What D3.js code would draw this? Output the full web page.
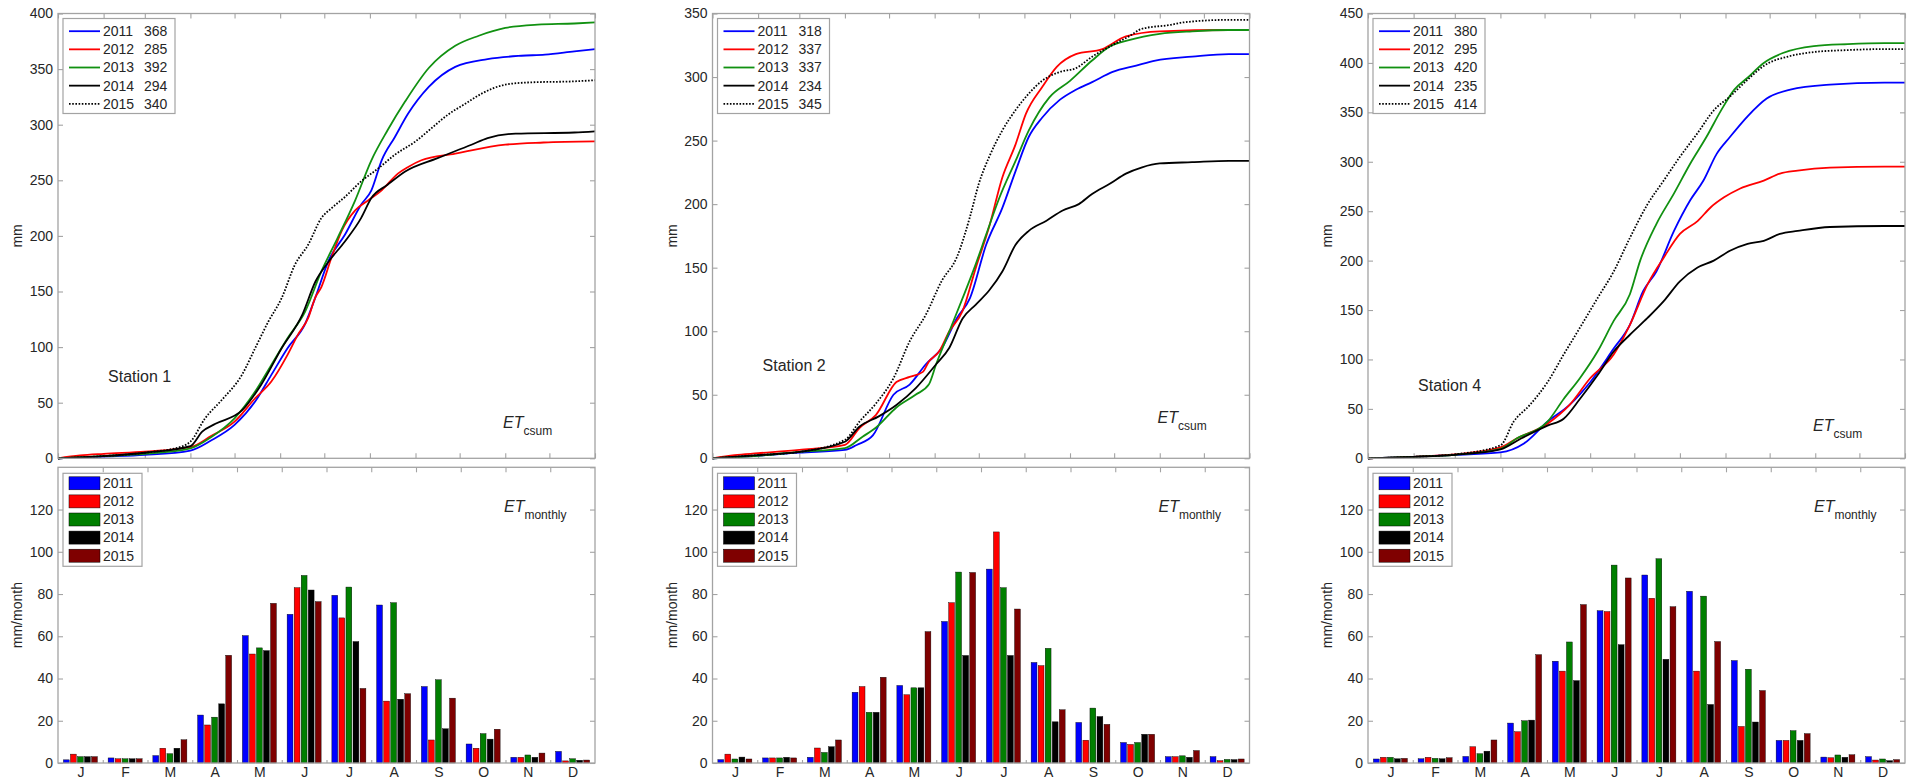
<!DOCTYPE html>
<html>
<head>
<meta charset="utf-8">
<script src="https://cdn.jsdelivr.net/npm/d3@7"></script>
<style>
  body { margin: 0; background: #fff; }
  text { font-family: Arial, "Liberation Sans", sans-serif; }
</style>
</head>
<body>
<div class="chart"></div>
<script>
// ---- data ----
const years = ["2011", "2012", "2013", "2014", "2015"];
const stations = ["Station 1", "Station 2", "Station 4"];
const monthLabels = ["J", "F", "M", "A", "M", "J", "J", "A", "S", "O", "N", "D"];
const monthStarts = [0, 31, 59, 90, 120, 151, 181, 212, 243, 273, 304, 334, 365];
const yMaxCsum = [400, 350, 450];
const csumTicks = [
  [0, 50, 100, 150, 200, 250, 300, 350, 400],
  [0, 50, 100, 150, 200, 250, 300, 350],
  [0, 50, 100, 150, 200, 250, 300, 350, 400, 450]
];
const monthlyTicks = [0, 20, 40, 60, 80, 100, 120];

// annual totals shown in the legends
const totals1 = [368, 285, 392, 294, 340];
const totals2 = [318, 337, 337, 234, 345];
const totals4 = [380, 295, 420, 235, 414];

// cumulative ET, [day of year, mm]
const csum1_2011 = [[0,0],[31,1.5],[59,3],[90,7],[104,16],[120,30],[134,51],[145,75],[156,99],[168,121],[175,145],[184,178],[195,201],[206,228],[213,241],[220,268],[229,289],[238,310],[252,334],[270,352],[292,359],[315,362],[331,363],[351,366],[365,368]];
const csum1_2012 = [[0,0],[15,2.5],[31,4],[59,6],[90,10],[104,20],[120,33],[134,54],[145,69],[156,93],[163,111],[170,126],[175,145],[179,154],[186,181],[193,205],[202,223],[211,232],[220,241],[231,256],[238,262],[247,268],[270,274],[281,277],[304,282],[330,284],[365,285]];
const csum1_2013 = [[0,0],[31,2],[59,4],[90,9],[104,19],[120,36],[134,60],[145,84],[156,108],[168,132],[179,168],[190,198],[202,232],[213,268],[224,295],[236,321],[252,351],[270,371],[286,380],[304,387],[326,390],[351,391],[365,392]];
const csum1_2014 = [[0,0],[31,2],[59,5],[90,11],[98,24],[107,31],[125,43],[138,66],[152,99],[166,129],[175,159],[184,177],[195,195],[206,216],[213,234],[224,246],[236,258],[258,270],[281,282],[292,288],[311,292],[351,293],[365,294]];
const csum1_2015 = [[0,0],[31,2],[59,5],[85,11],[90,15],[100,36],[111,52],[125,75],[134,99],[143,123],[152,144],[161,174],[170,192],[179,216],[186,225],[195,235],[206,249],[218,261],[229,273],[243,285],[254,297],[265,309],[277,319],[288,328],[304,336],[320,338],[351,339],[365,340]];

const csum2_2011 = [[0,0],[31,2],[59,4.5],[90,6.6],[98,10.5],[109,18],[123,50],[134,58],[145,74],[156,87],[166,110],[175,126],[186,168],[197,197],[206,226],[215,253],[224,268],[236,282],[247,290],[258,296],[272,304],[288,309],[301,313],[326,316],[351,318],[365,318]];
const csum2_2012 = [[0,0],[15,2.5],[31,4],[59,6.6],[90,10.5],[100,24],[111,34],[125,60],[134,64],[143,68],[147,76],[154,84],[161,100],[170,116],[179,150],[188,182],[197,221],[206,247],[213,271],[224,292],[234,308],[247,318],[265,322],[281,332],[304,336],[351,337],[365,337]];
const csum2_2013 = [[0,0],[31,2],[59,5],[90,8],[102,17],[111,24],[125,40],[138,50],[147,58],[152,74],[161,100],[170,126],[179,153],[186,176],[195,205],[206,234],[215,258],[229,284],[243,297],[258,313],[270,324],[283,329],[304,334],[326,336],[351,337],[365,337]];
const csum2_2014 = [[0,0],[31,2.5],[59,5],[90,13],[100,25],[113,33],[125,42],[138,55],[152,74],[161,87],[170,110],[179,121],[188,132],[197,147],[206,168],[215,179],[227,187],[238,195],[249,200],[258,208],[270,216],[281,224],[292,229],[304,232],[326,233],[351,234],[365,234]];
const csum2_2015 = [[0,0],[31,2.5],[59,5],[90,14.5],[100,29],[111,43],[123,63],[134,92],[145,113],[156,140],[166,158],[175,190],[181,216],[188,237],[197,258],[206,274],[215,287],[224,297],[236,304],[247,307],[258,316],[270,324],[283,332],[292,338],[311,341],[320,343],[351,345],[365,345]];

const csum4_2011 = [[0,0],[31,1.5],[59,3.5],[90,6],[106,15],[122,37],[137,54],[151,77],[167,111],[178,135],[187,169],[196,189],[208,230],[219,261],[228,281],[237,308],[246,325],[258,346],[271,364],[287,373],[314,378],[351,380],[365,380]];
const csum4_2012 = [[0,0],[31,1.5],[59,4],[90,11],[101,20],[122,35],[137,54],[151,81],[167,105],[178,135],[190,176],[201,203],[212,227],[224,240],[233,254],[242,264],[253,273],[269,281],[280,288],[292,291],[314,294],[351,295],[365,295]];
const csum4_2013 = [[0,0],[31,1.5],[59,3.5],[90,9.5],[101,20],[122,37],[133,60],[144,81],[156,108],[167,139],[178,166],[185,200],[196,237],[208,268],[219,298],[230,325],[240,352],[249,373],[258,385],[269,400],[282,410],[303,417],[326,419],[351,420],[365,420]];
const csum4_2014 = [[0,0],[31,1.5],[59,3.5],[90,9],[104,20],[122,33],[133,40],[144,60],[156,84],[167,108],[178,125],[190,142],[201,159],[212,179],[224,193],[235,200],[246,210],[258,217],[269,220],[280,227],[292,230],[314,234],[351,235],[365,235]];
const csum4_2015 = [[0,0],[31,1.5],[59,4],[90,13],[99,37],[110,54],[122,77],[133,105],[144,132],[156,162],[167,189],[178,223],[190,257],[201,281],[212,305],[224,329],[235,352],[246,366],[258,383],[269,397],[287,407],[303,411],[326,413],[351,414],[365,414]];

// monthly ET, mm/month (J..D)
const month1_2011 = [1.5, 2.4, 3.5, 22.7, 60.3, 70.4, 79.4, 74.8, 36.2, 9, 2.7, 5.5];
const month1_2012 = [4.2, 2, 7, 18, 51.6, 83, 68.7, 29.3, 10.9, 7, 2.7, 1];
const month1_2013 = [3, 2, 4.4, 21.7, 54.5, 88.8, 83.3, 75.9, 39.4, 13.9, 3.8, 2];
const month1_2014 = [3, 2, 7, 28, 53.2, 81.9, 57.5, 30.2, 16.2, 11.3, 2.7, 1.3];
const month1_2015 = [3, 2, 11, 51, 75.6, 76.4, 35.3, 32.8, 30.7, 16, 4.7, 1.4];

const month2_2011 = [1.6, 2.4, 2.7, 33.5, 36.7, 67, 91.8, 47.6, 19.2, 9.7, 3, 3];
const month2_2012 = [4.2, 2.4, 7.1, 36.2, 32.3, 75.9, 109.4, 46.1, 10.8, 8.8, 3, 1.1];
const month2_2013 = [1.9, 2.4, 5, 24, 35.6, 90.4, 83, 54.3, 26, 9.7, 3.4, 1.7];
const month2_2014 = [2.8, 2.7, 7.7, 24, 35.6, 50.9, 50.9, 19.5, 22, 13.6, 2.7, 1.6];
const month2_2015 = [1.9, 2.4, 10.9, 40.6, 62.2, 90.2, 72.9, 25.2, 18.3, 13.6, 5.9, 1.9];

const month4_2011 = [1.9, 2, 3.1, 18.9, 48.2, 72.1, 89, 81.3, 48.5, 10.7, 2.8, 3];
const month4_2012 = [2.7, 2.7, 7.7, 14.8, 43.5, 71.7, 78, 43.5, 17.3, 10.7, 2.5, 1.4];
const month4_2013 = [2.7, 2.2, 4.4, 20, 57.3, 93.7, 96.7, 79, 44.4, 15.3, 3.8, 1.9];
const month4_2014 = [2, 2, 5.6, 20.3, 39, 56, 49.1, 27.7, 19.4, 10.7, 2.7, 1.1];
const month4_2015 = [2.2, 2.5, 10.9, 51.3, 75, 87.6, 74, 57.5, 34.3, 13.9, 3.9, 1.6];

const csumData = [
  [csum1_2011, csum1_2012, csum1_2013, csum1_2014, csum1_2015],
  [csum2_2011, csum2_2012, csum2_2013, csum2_2014, csum2_2015],
  [csum4_2011, csum4_2012, csum4_2013, csum4_2014, csum4_2015]
];
const monthlyData = [
  [month1_2011, month1_2012, month1_2013, month1_2014, month1_2015],
  [month2_2011, month2_2012, month2_2013, month2_2014, month2_2015],
  [month4_2011, month4_2012, month4_2013, month4_2014, month4_2015]
];
const totals = [totals1, totals2, totals4];

// ---- layout ----
const lineColors = ["#0000ff", "#ff0000", "#119111", "#000000", "#000000"];
const barColors = ["#0000ff", "#ff0000", "#007f00", "#000000", "#7f0000"];
const frameColor = "#a3a3a3";
const textColor = "#262626";

const panelLeft = [58, 712.5, 1368];
const pw = 537;
const topY = 13.5, topH = 444.8;
const botY = 467.3, botH = 295.7;

const svg = d3
  .select(".chart")
  .append("svg")
  .attr("width", 1915)
  .attr("height", 783)
  .style("background", "#fff");

function styleAxis(g) {
  g.select(".domain").remove();
  g.selectAll(".tick line").attr("stroke", frameColor).attr("stroke-width", 1.1);
  g.attr("font-size", 14).attr("font-family", "Arial, 'Liberation Sans', sans-serif");
  g.selectAll(".tick text").attr("fill", textColor);
}

stations.forEach((name, i) => {
  const g = svg.append("g").attr("transform", `translate(${panelLeft[i]},0)`);

  // ================= cumulative panel =================
  const gt = g.append("g").attr("transform", `translate(0,${topY})`);
  const x = d3.scaleLinear().domain([0, 365]).range([0, pw]);
  const y = d3.scaleLinear().domain([0, yMaxCsum[i]]).range([topH, 0]);

  gt.append("g")
    .call(d3.axisLeft(y).tickValues(csumTicks[i]).tickSize(-5).tickPadding(5))
    .call(styleAxis);
  gt.append("g")
    .attr("transform", `translate(${pw},0)`)
    .call(d3.axisRight(y).tickValues(csumTicks[i]).tickSize(-5).tickFormat(""))
    .call(styleAxis);
  gt.append("g")
    .attr("transform", `translate(0,${topH})`)
    .call(d3.axisBottom(x).tickValues(monthStarts).tickSize(-5).tickFormat(""))
    .call(styleAxis);
  gt.append("g")
    .call(d3.axisTop(x).tickValues(monthStarts).tickSize(-5).tickFormat(""))
    .call(styleAxis);

  const line = d3
    .line()
    .x((d) => x(d[0]))
    .y((d) => y(d[1]))
    .curve(d3.curveMonotoneX);

  csumData[i].forEach((series, k) => {
    gt.append("path")
      .datum(series)
      .attr("d", line)
      .attr("fill", "none")
      .attr("stroke", lineColors[k])
      .attr("stroke-width", 1.8)
      .attr("stroke-dasharray", k === 4 ? "1.6,1.6" : null);
  });

  gt.append("rect")
    .attr("width", pw)
    .attr("height", topH)
    .attr("fill", "none")
    .attr("stroke", frameColor)
    .attr("stroke-width", 1.3);

  // legend
  const lg = gt.append("g").attr("transform", "translate(5,5)");
  lg.append("rect")
    .attr("width", 112)
    .attr("height", 95)
    .attr("fill", "#fff")
    .attr("stroke", frameColor)
    .attr("stroke-width", 1.2);
  years.forEach((yr, k) => {
    const ry = 12.7 + k * 18.15;
    lg.append("line")
      .attr("x1", 6).attr("x2", 37)
      .attr("y1", ry).attr("y2", ry)
      .attr("stroke", lineColors[k])
      .attr("stroke-width", 1.8)
      .attr("stroke-dasharray", k === 4 ? "1.6,1.6" : null);
    lg.append("text").attr("x", 40).attr("y", ry).attr("dy", "0.35em")
      .attr("font-size", 14).attr("fill", textColor).text(yr);
    lg.append("text").attr("x", 81).attr("y", ry).attr("dy", "0.35em")
      .attr("font-size", 14).attr("fill", textColor).text(totals[i][k]);
  });

  gt.append("text")
    .attr("x", x(34))
    .attr("y", y(70) + 2)
    .attr("font-size", 16)
    .attr("fill", textColor)
    .text(name);

  const et1 = gt.append("text")
    .attr("x", x(302.5))
    .attr("y", y(27.5))
    .attr("font-size", 16)
    .attr("fill", textColor);
  et1.append("tspan").attr("font-style", "italic").text("ET");
  et1.append("tspan").attr("font-size", 12).attr("dy", 7).text("csum");

  gt.append("text")
    .attr("transform", `translate(-36,${topH / 2}) rotate(-90)`)
    .attr("text-anchor", "middle")
    .attr("font-size", 14)
    .attr("fill", textColor)
    .text("mm");

  // ================= monthly panel =================
  const gb = g.append("g").attr("transform", `translate(0,${botY})`);
  const xm = d3.scaleLinear().domain([0.5, 12.5]).range([0, pw]);
  const x0 = d3.scaleBand().domain(d3.range(12)).range([0, pw]);
  const x1 = d3
    .scaleBand()
    .domain(years)
    .range([x0.bandwidth() * 0.12, x0.bandwidth() * 0.88])
    .paddingInner(0.17);
  const ym = d3.scaleLinear().domain([0, 140]).range([botH, 0]);

  gb.append("g")
    .call(d3.axisLeft(ym).tickValues(monthlyTicks).tickSize(-5).tickPadding(5))
    .call(styleAxis);
  gb.append("g")
    .attr("transform", `translate(${pw},0)`)
    .call(d3.axisRight(ym).ticks(7).tickSize(-5).tickFormat(""))
    .call(styleAxis);
  gb.append("g")
    .call(d3.axisTop(xm).tickValues(d3.range(1.5, 12, 1)).tickSize(-5).tickFormat(""))
    .call(styleAxis);
  gb.append("g")
    .attr("transform", `translate(0,${botH})`)
    .call(d3.axisBottom(xm).tickValues(d3.range(1.5, 12, 1)).tickSize(-3).tickFormat(""))
    .call(styleAxis);
  gb.append("g")
    .attr("transform", `translate(0,${botH})`)
    .call(
      d3.axisBottom(xm)
        .tickValues(d3.range(1, 13))
        .tickSize(0)
        .tickPadding(4)
        .tickFormat((d) => monthLabels[d - 1])
    )
    .call(styleAxis);

  monthlyData[i].forEach((series, k) => {
    gb.append("g")
      .selectAll("rect")
      .data(series)
      .enter()
      .append("rect")
      .attr("x", (d, m) => x0(m) + x1(years[k]))
      .attr("width", x1.bandwidth())
      .attr("y", (d) => ym(d))
      .attr("height", (d) => botH - ym(d))
      .attr("fill", barColors[k])
      .attr("stroke", "#000")
      .attr("stroke-width", 0.4);
  });

  gb.append("rect")
    .attr("width", pw)
    .attr("height", botH)
    .attr("fill", "none")
    .attr("stroke", frameColor)
    .attr("stroke-width", 1.3);

  const bl = gb.append("g").attr("transform", "translate(5,6)");
  bl.append("rect")
    .attr("width", 79)
    .attr("height", 93)
    .attr("fill", "#fff")
    .attr("stroke", frameColor)
    .attr("stroke-width", 1.2);
  years.forEach((yr, k) => {
    const ry = 10 + k * 18.1;
    bl.append("rect")
      .attr("x", 6).attr("y", ry - 6.5)
      .attr("width", 31).attr("height", 13)
      .attr("fill", barColors[k])
      .attr("stroke", "#000")
      .attr("stroke-width", 0.5);
    bl.append("text").attr("x", 40).attr("y", ry).attr("dy", "0.35em")
      .attr("font-size", 14).attr("fill", textColor).text(yr);
  });

  const et2 = gb.append("text")
    .attr("x", xm(0.5 + 446 / pw * 12))
    .attr("y", ym(119))
    .attr("font-size", 16)
    .attr("fill", textColor);
  et2.append("tspan").attr("font-style", "italic").text("ET");
  et2.append("tspan").attr("font-size", 12).attr("dy", 7).text("monthly");

  gb.append("text")
    .attr("transform", `translate(-36,${botH / 2}) rotate(-90)`)
    .attr("text-anchor", "middle")
    .attr("font-size", 14)
    .attr("fill", textColor)
    .text("mm/month");
});
</script>
</body>
</html>
